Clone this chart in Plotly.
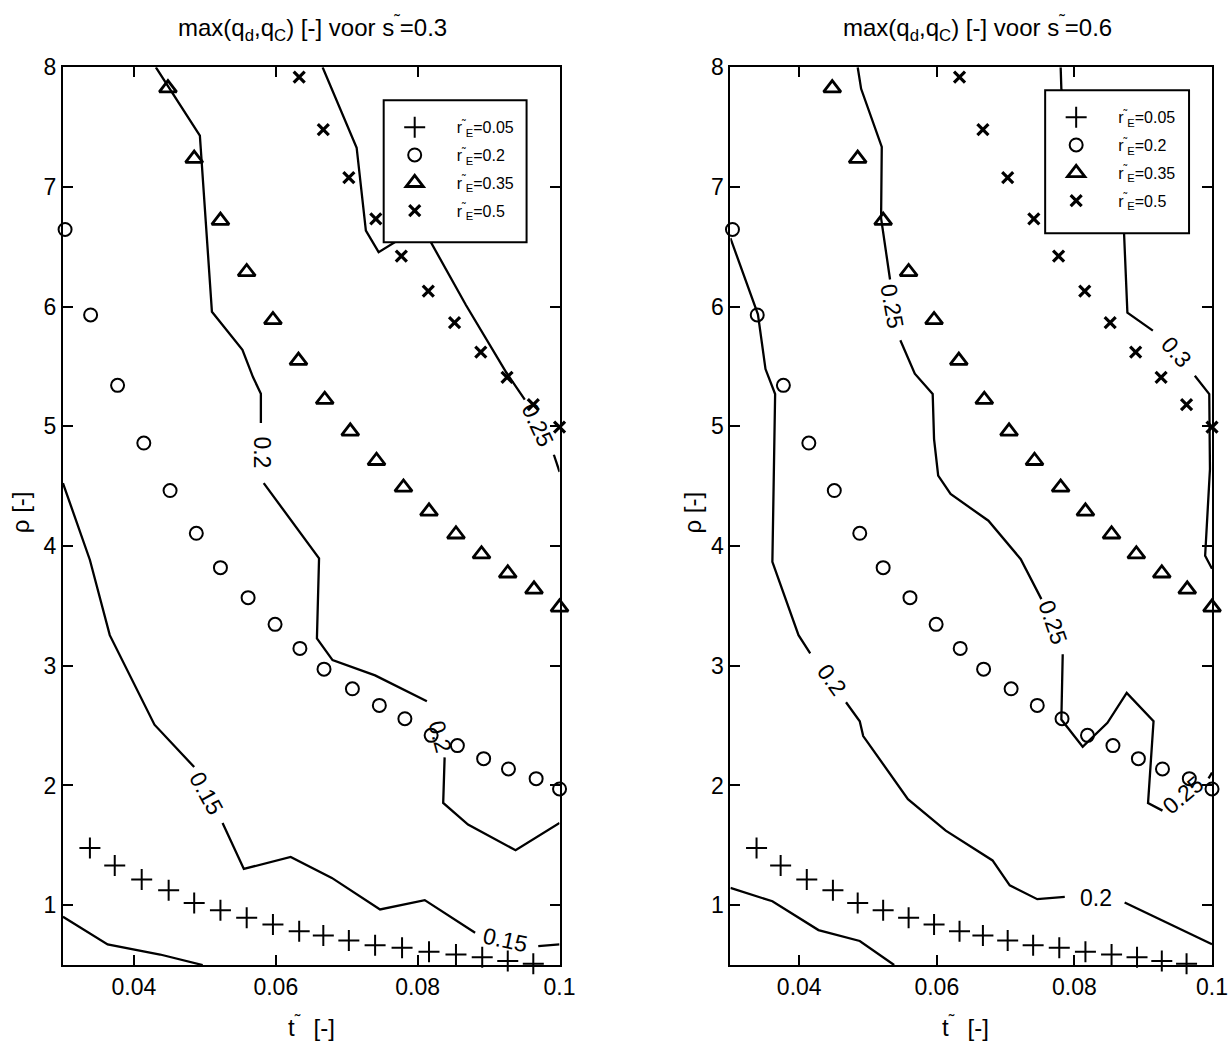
import plotly.graph_objects as go

FONT = "Liberation Sans, Arial, sans-serif"

# ---- design points (identical for both panels) ----
plus_t = [0.0338, 0.0373, 0.0411, 0.0449, 0.0485, 0.0522, 0.0559, 0.0596, 0.0633,
          0.0667, 0.0703, 0.0740, 0.0778, 0.0816, 0.0854, 0.0891, 0.0927, 0.0963]
plus_rho = [1.478, 1.331, 1.214, 1.125, 1.019, 0.958, 0.894, 0.839, 0.783,
            0.747, 0.705, 0.666, 0.644, 0.611, 0.589, 0.566, 0.533, 0.510]

circ_t = [0.0303, 0.0339, 0.0377, 0.0414, 0.0451, 0.0488, 0.0522, 0.0561, 0.0599, 0.0634,
          0.0668, 0.0708, 0.0746, 0.0782, 0.0819, 0.0856, 0.0893, 0.0928, 0.0967, 0.1000]
circ_rho = [6.645, 5.931, 5.343, 4.861, 4.464, 4.107, 3.820, 3.569, 3.346, 3.145,
            2.972, 2.808, 2.669, 2.558, 2.419, 2.333, 2.224, 2.138, 2.057, 1.971]

tri_t = [0.0448, 0.0485, 0.0522, 0.0559, 0.0596, 0.0632, 0.0669, 0.0705,
         0.0742, 0.0780, 0.0816, 0.0854, 0.0890, 0.0927, 0.0964, 0.1000]
tri_rho = [7.826, 7.237, 6.719, 6.290, 5.889, 5.549, 5.223, 4.958,
           4.713, 4.490, 4.290, 4.099, 3.932, 3.773, 3.639, 3.488]

x_t = [0.0633, 0.0667, 0.0703, 0.0741, 0.0777, 0.0815, 0.0852, 0.0889, 0.0926, 0.0963, 0.1000]
x_rho = [7.917, 7.480, 7.079, 6.733, 6.423, 6.130, 5.867, 5.621, 5.410, 5.181, 4.994]

rE_labels = ["0.05", "0.2", "0.35", "0.5"]

# ---- contour lines of max(q_d, q_C), s~ = 0.3 (None = gap for the inline label) ----
L025_t = [0.0666, 0.0714, 0.0727, 0.0745, 0.0790, 0.0818, 0.0868, 0.0925, 0.0951, None, 0.0992, 0.1000]
L025_r = [8.000, 7.328, 6.636, 6.456, 6.620, 6.545, 6.014, 5.450, 5.223, None, 4.763, 4.620]

L020_t = [0.0431, 0.0493, 0.0510, 0.0553, 0.0568, 0.0579, 0.0579, None,
          0.0583, 0.0661, 0.0658, 0.0680, 0.0740, 0.0813, None,
          0.0838, 0.0836, 0.0871, 0.0938, 0.1000]
L020_r = [8.000, 7.430, 5.958, 5.640, 5.410, 5.273, 5.028, None,
          4.526, 3.898, 3.229, 3.047, 2.920, 2.703, None,
          2.235, 1.854, 1.673, 1.459, 1.687]

L015_t = [0.0300, 0.0338, 0.0366, 0.0429, 0.0485, None,
          0.0525, 0.0555, 0.0621, 0.0679, 0.0747, 0.0810, 0.0881, None,
          0.0970, 0.1000]
L015_r = [4.526, 3.884, 3.256, 2.508, 2.154, None,
          1.687, 1.303, 1.403, 1.228, 0.964, 1.042, 0.769, None,
          0.658, 0.672]

L010_t = [0.0300, 0.0363, 0.0437, 0.0497]
L010_r = [0.903, 0.672, 0.588, 0.500]

# ---- contour lines, s~ = 0.6 ----
R030_t = [0.0780, 0.0781, 0.0805, 0.0872, 0.0877, 0.0914, None,
          0.0975, 0.0996, 0.0997, 0.0990, 0.1000]
R030_r = [8.000, 7.820, 7.200, 6.634, 5.950, 5.800, None,
          5.423, 5.270, 4.643, 3.920, 3.810]

R025_t = [0.0485, 0.0490, 0.0520, 0.0519, 0.0532, None,
          0.0547, 0.0568, 0.0594, 0.0596, 0.0602, 0.0620, 0.0675, 0.0722, 0.0752, None,
          0.0783, 0.0781, 0.0812, 0.0848, 0.0876, 0.0915, 0.0907, 0.0928, None,
          0.0995, 0.1000]
R025_r = [8.000, 7.820, 7.335, 6.740, 6.227, None,
          5.720, 5.440, 5.270, 4.894, 4.588, 4.435, 4.212, 3.891, 3.557, None,
          3.097, 2.551, 2.324, 2.524, 2.773, 2.537, 1.853, 1.790, None,
          2.060, 2.108]

R020_t = [0.0300, 0.0340, 0.0351, 0.0365, 0.0361, 0.0399, 0.0416, None,
          0.0468, 0.0488, 0.0493, 0.0558, 0.0613, 0.0681, 0.0706, 0.0746, 0.0786, None,
          0.0873, 0.1000]
R020_r = [6.573, 5.936, 5.479, 5.270, 3.869, 3.256, 3.103, None,
          2.695, 2.537, 2.413, 1.886, 1.623, 1.374, 1.166, 1.050, 1.069, None,
          1.022, 0.673]

R015_t = [0.0300, 0.0361, 0.0428, 0.0488, 0.0538]
R015_r = [1.144, 1.033, 0.792, 0.701, 0.500]

# inline contour labels: (text, t, rho, angle)
labels_left = [("0.2", 0.0581, 4.78, 90), ("0.25", 0.0969, 5.01, 65),
               ("0.2", 0.0831, 2.41, 75), ("0.15", 0.0503, 1.932, 61),
               ("0.15", 0.0924, 0.713, 12)]
labels_right = [("0.25", 0.0535, 6.006, 80), ("0.25", 0.0768, 3.362, 71),
                ("0.2", 0.0448, 2.884, 54), ("0.2", 0.0831, 1.061, 0),
                ("0.25", 0.0958, 1.917, -40), ("0.3", 0.0948, 5.618, 49)]

W, H = 1231, 1042
# page placement of the figure inside the viewport
SCALE, OFFSET_Y = 0.9878, 12.7


def px_x(p):
    return (p / SCALE) / W


def px_y(p):
    return 1 - ((p - OFFSET_Y) / SCALE) / H


fig = go.Figure()

line_style = dict(color="black", width=2.3)


def add_contours(xa, ya, series):
    for t, r in series:
        fig.add_trace(go.Scatter(x=t, y=r, mode="lines", line=line_style,
                                 xaxis=xa, yaxis=ya, showlegend=False,
                                 hoverinfo="skip"))


add_contours("x", "y", [(L025_t, L025_r), (L020_t, L020_r), (L015_t, L015_r), (L010_t, L010_r)])
add_contours("x2", "y2", [(R030_t, R030_r), (R025_t, R025_r), (R020_t, R020_r), (R015_t, R015_r)])

marker_sets = [
    (plus_t, plus_rho, dict(symbol="cross-thin-open", size=15, line=dict(color="black", width=2))),
    (circ_t, circ_rho, dict(symbol="circle-open", size=13, line=dict(color="black", width=2))),
    (tri_t, tri_rho, dict(symbol="triangle-up-open", size=15, line=dict(color="black", width=2.8))),
    (x_t, x_rho, dict(symbol="x-thin-open", size=11, line=dict(color="black", width=3.2))),
]

for xa, ya, leg in [("x", "y", "legend"), ("x2", "y2", "legend2")]:
    for k, ((t, r, mk), lab) in enumerate(zip(marker_sets, rE_labels)):
        fig.add_trace(go.Scatter(
            x=t, y=r, mode="markers", marker=dict(color="black", **mk),
            name="r<sup>˜</sup><sub>E</sub>=" + lab, legend=leg, legendgroup="g%d" % k,
            xaxis=xa, yaxis=ya, cliponaxis=False))

axis_common = dict(showline=True, linecolor="black", linewidth=2, mirror="ticks",
                   ticks="inside", ticklen=10, tickwidth=1.5, tickcolor="black",
                   showgrid=False, zeroline=False,
                   tickfont=dict(family=FONT, size=23, color="black"))

xt = dict(range=[0.03, 0.1], tickvals=[0.04, 0.06, 0.08, 0.1],
          ticktext=["0.04", "0.06", "0.08", "0.1"], **axis_common)
yt = dict(range=[0.5, 8], tickvals=[1, 2, 3, 4, 5, 6, 7, 8], **axis_common)

label_font = dict(family=FONT, size=23, color="black")
annotations = []
for text, t, r, ang in labels_left:
    annotations.append(dict(x=t, y=r, xref="x", yref="y", text=text, showarrow=False,
                            textangle=ang, font=label_font))
for text, t, r, ang in labels_right:
    annotations.append(dict(x=t, y=r, xref="x2", yref="y2", text=text, showarrow=False,
                            textangle=ang, font=label_font))

title_font = dict(family=FONT, size=24, color="black")
for cx, s in [(313, "0.3"), (978, "0.6")]:
    annotations.append(dict(x=px_x(cx), y=px_y(28), xref="paper", yref="paper",
                            xanchor="center", yanchor="middle",
                            text="max(q<sub>d</sub>,q<sub>C</sub>) [-] voor s<sup>˜</sup>=" + s,
                            showarrow=False, font=title_font))
for cx in (312, 966):
    annotations.append(dict(x=px_x(cx), y=px_y(1026), xref="paper", yref="paper",
                            xanchor="center", yanchor="middle",
                            text="t<sup>˜</sup>  [-]", showarrow=False, font=title_font))
for cx in (20, 693):
    annotations.append(dict(x=px_x(cx), y=px_y(512), xref="paper", yref="paper",
                            xanchor="center", yanchor="middle",
                            text="ρ [-]", textangle=-90, showarrow=False, font=title_font))

# legend frames: (left, right, top, bottom) in page pixels
legend_boxes = [(384, 527, 100, 242), (1046, 1190, 90, 233)]
shapes = []
for x0, x1, y0, y1 in legend_boxes:
    shapes.append(dict(type="rect", xref="paper", yref="paper", layer="above",
                       x0=px_x(x0), x1=px_x(x1), y0=px_y(y1), y1=px_y(y0),
                       fillcolor="white", line=dict(color="black", width=2)))

legend_common = dict(bgcolor="rgba(0,0,0,0)", borderwidth=0,
                     font=dict(family=FONT, size=16, color="black"),
                     xanchor="left", yanchor="top", itemwidth=74,
                     tracegroupgap=4, traceorder="grouped")

fig.update_layout(
    width=W, height=H,
    margin=dict(l=0, r=0, t=0, b=0),
    paper_bgcolor="white", plot_bgcolor="white",
    showlegend=True,
    xaxis=dict(domain=[px_x(63), px_x(560)], anchor="y", **xt),
    yaxis=dict(domain=[px_y(965), px_y(67)], anchor="x", **yt),
    xaxis2=dict(domain=[px_x(731), px_x(1213)], anchor="y2", **xt),
    yaxis2=dict(domain=[px_y(965), px_y(67)], anchor="x2", **yt),
    legend=dict(x=px_x(384 - 11), y=px_y(100 + 10), **legend_common),
    legend2=dict(x=px_x(1046 - 11), y=px_y(90 + 10), **legend_common),
    shapes=shapes,
    annotations=annotations,
)

fig.write_html("out.html")
